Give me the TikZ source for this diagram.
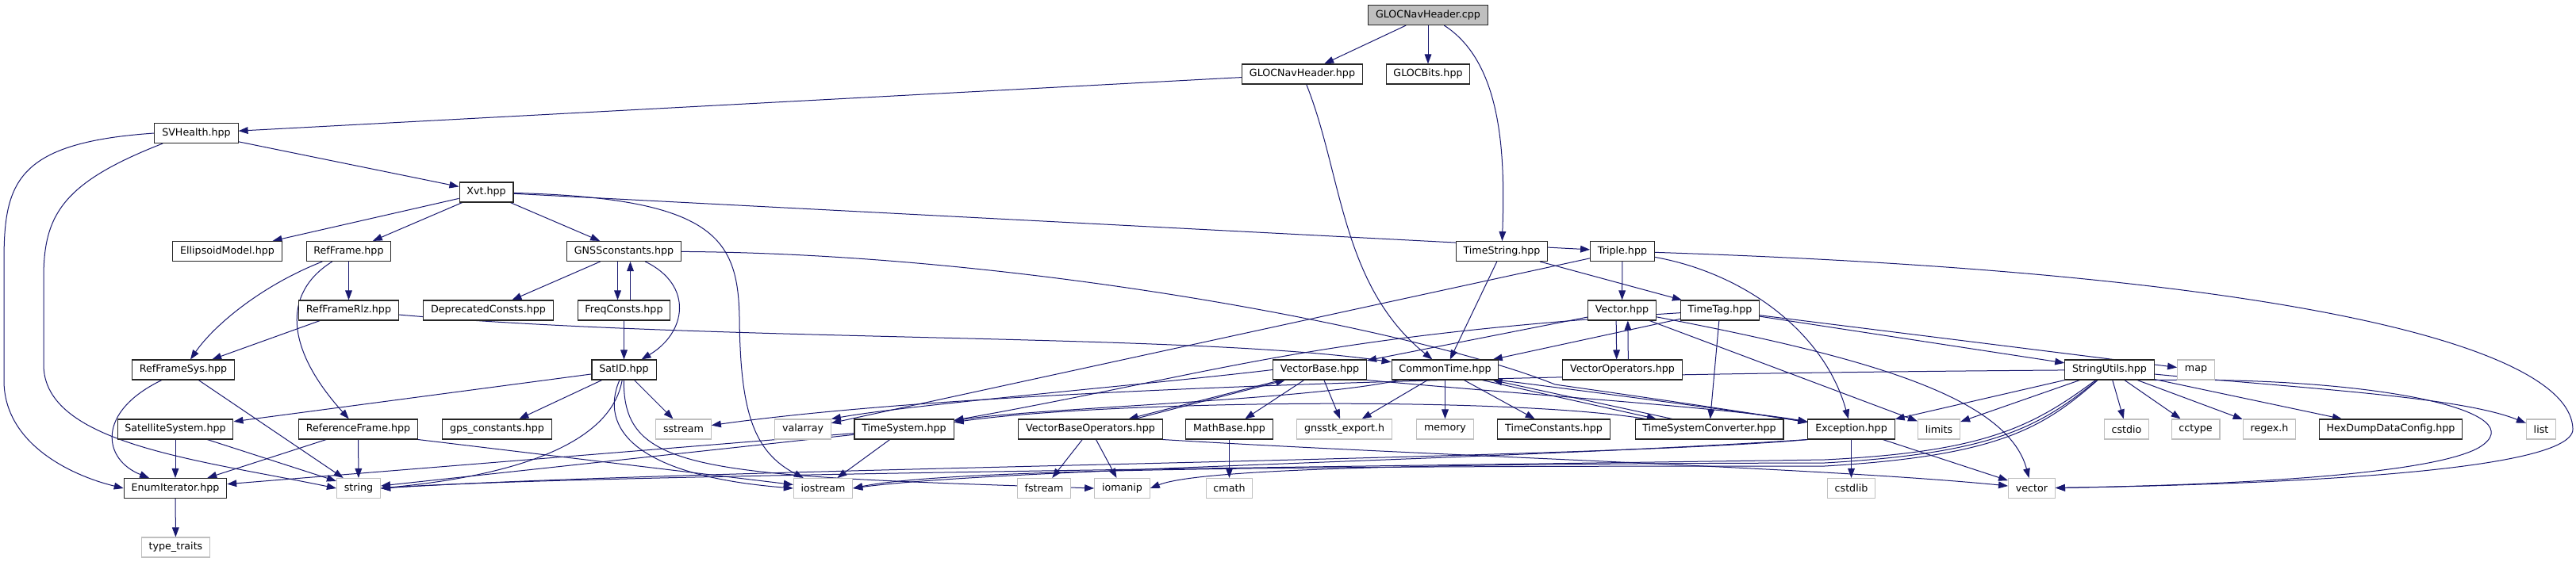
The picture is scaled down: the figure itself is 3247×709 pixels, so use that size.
\documentclass[tikz,border=0pt]{standalone}
\usepackage{fontspec}
\setmainfont{DejaVu Sans}
\usetikzlibrary{arrows.meta}
\definecolor{edgeblue}{HTML}{191970}
\definecolor{sysgray}{HTML}{BFBFBF}
\pgfdeclarelayer{edges}
\pgfsetlayers{edges,main}

\begin{document}
\begin{tikzpicture}[x=0.75pt,y=-0.75pt,
	hdrbox/.style={draw=black!85,line width=0.8pt,fill=white,inner xsep=7pt,inner ysep=0pt,
	minimum height=18.75pt,font=\fontsize{9.5}{11}\selectfont},
	sysbox/.style={hdrbox,draw=sysgray},
	rootbox/.style={hdrbox,fill=sysgray},
	incl/.style={draw=edgeblue,line width=0.75pt,-{Triangle[length=9pt,width=6.5pt]}}]
\begin{pgfonlayer}{edges}
\path[use as bounding box,fill=white] (0,0) rectangle (3247,709);
\end{pgfonlayer}
% files
\node[rootbox] (cpp) at (1800,19) {GLOCNavHeader.cpp};
\node[hdrbox] (hdr) at (1641.5,93.5) {GLOCNavHeader.hpp};
\node[hdrbox] (bits) at (1800,93.5) {GLOCBits.hpp};
\node[hdrbox] (svh) at (247.5,168) {SVHealth.hpp};
\node[hdrbox] (xvt) at (613,242.5) {Xvt.hpp};
\node[hdrbox] (ellip) at (286.5,317) {EllipsoidModel.hpp};
\node[hdrbox] (rf) at (439.5,317) {RefFrame.hpp};
\node[hdrbox] (gnss) at (786.5,317) {GNSSconstants.hpp};
\node[hdrbox] (tstr) at (1893,317) {TimeString.hpp};
\node[hdrbox] (trip) at (2045,317) {Triple.hpp};
\node[hdrbox] (rlz) at (439.5,391.5) {RefFrameRlz.hpp};
\node[hdrbox] (depr) at (615.5,391.5) {DeprecatedConsts.hpp};
\node[hdrbox] (freq) at (786.5,391.5) {FreqConsts.hpp};
\node[hdrbox] (vec) at (2044.5,391.5) {Vector.hpp};
\node[hdrbox] (ttag) at (2168,391.5) {TimeTag.hpp};
\node[hdrbox] (rfs) at (231,466.5) {RefFrameSys.hpp};
\node[hdrbox] (satid) at (786.5,466.5) {SatID.hpp};
\node[hdrbox] (vb) at (1663.5,466.5) {VectorBase.hpp};
\node[hdrbox] (ct) at (1821.5,466.5) {CommonTime.hpp};
\node[hdrbox] (vops) at (2045,466.5) {VectorOperators.hpp};
\node[hdrbox] (su) at (2659,466.5) {StringUtils.hpp};
\node[sysbox] (map) at (2768,466.5) {map};
\node[hdrbox] (satsys) at (221,541.5) {SatelliteSystem.hpp};
\node[hdrbox] (reff) at (451.5,541.5) {ReferenceFrame.hpp};
\node[hdrbox] (gpsc) at (626.5,541.5) {gps\_constants.hpp};
\node[sysbox] (sstr) at (861.5,541.5) {sstream};
\node[sysbox] (vala) at (1012,541.5) {valarray};
\node[hdrbox] (tsys) at (1139.5,541.5) {TimeSystem.hpp};
\node[hdrbox] (vbo) at (1374.5,541.5) {VectorBaseOperators.hpp};
\node[hdrbox] (mathb) at (1549.5,541.5) {MathBase.hpp};
\node[sysbox] (gexp) at (1694.5,541.5) {gnsstk\_export.h};
\node[sysbox] (mem) at (1821.5,541.5) {memory};
\node[hdrbox] (tconst) at (1958.5,541.5) {TimeConstants.hpp};
\node[hdrbox] (tsc) at (2154.5,541.5) {TimeSystemConverter.hpp};
\node[hdrbox] (exc) at (2333.5,541.5) {Exception.hpp};
\node[sysbox] (lim) at (2444,541.5) {limits};
\node[sysbox] (cstdio) at (2680.5,541.5) {cstdio};
\node[sysbox] (cctype) at (2767.5,541.5) {cctype};
\node[sysbox] (regex) at (2860.5,541.5) {regex.h};
\node[hdrbox] (hexd) at (3013.5,541.5) {HexDumpDataConfig.hpp};
\node[sysbox] (list) at (3203,541.5) {list};
\node[hdrbox] (enumit) at (221,616) {EnumIterator.hpp};
\node[sysbox] (string) at (452,616) {string};
\node[sysbox] (iostr) at (1037.5,616) {iostream};
\node[sysbox] (fstr) at (1316,616) {fstream};
\node[sysbox] (iomanip) at (1414.5,616) {iomanip};
\node[sysbox] (cmath) at (1549.5,616) {cmath};
\node[sysbox] (cstdlib) at (2333.5,616) {cstdlib};
\node[sysbox] (vector) at (2561,616) {vector};
\node[sysbox] (ttraits) at (221.5,690.5) {type\_traits};
% includes, kept under the boxes
\begin{pgfonlayer}{edges}
\draw[incl] (cpp) -- (hdr);
\draw[incl] (cpp) -- (bits);
\draw[incl] (cpp) .. controls (1895,80) and (1897,200) .. (tstr);
\draw[incl] (hdr) -- (svh);
\draw[incl] (hdr) .. controls (1692,220) and (1690,360) .. (ct);
\draw[incl] (svh) -- (xvt);
\draw[incl] (svh.west) .. controls (20,180) and (5,230) .. (5,330) -- (5,480) .. controls (5,560) and (90,600) .. (enumit.west);
\draw[incl] ([xshift=8pt]svh.south west) .. controls (80,230) and (55,270) .. (55,350) -- (55,460) .. controls (55,560) and (250,580) .. (string.west);
\draw[incl] (xvt) -- (ellip);
\draw[incl] (xvt) -- (rf);
\draw[incl] (xvt) -- (gnss);
\draw[incl] (xvt) -- (trip);
\draw[incl] (xvt) .. controls (900,250) and (930,300) .. (932,400) .. controls (933,520) and (950,570) .. (iostr);
\draw[incl] (rf) -- (rlz);
\draw[incl] (rf) .. controls (330,360) and (270,410) .. (rfs);
\draw[incl] (rf) .. controls (355,370) and (360,440) .. (reff);
\draw[incl] (gnss) -- (depr);
\draw[incl] ([xshift=-6pt]gnss.south) -- ([xshift=-6pt]freq.north);
\draw[incl] ([xshift=6pt]freq.north) -- ([xshift=6pt]gnss.south);
\draw[incl] (gnss) .. controls (875,360) and (865,420) .. (satid);
\draw[incl] (gnss) .. controls (1300,320) and (1800,420) .. (1960,485) .. controls (2100,505) and (2200,520) .. (exc);
\draw[incl] (freq) -- (satid);
\draw[incl] (rlz) -- (rfs);
\draw[incl] (rlz) .. controls (900,432) and (1500,420) .. (ct);
\draw[incl] (rfs) .. controls (120,520) and (130,580) .. (enumit);
\draw[incl] (rfs) -- (string);
\draw[incl] (satid) -- (satsys);
\draw[incl] (satid) -- (gpsc);
\draw[incl] (satid) -- (sstr);
\draw[incl] (satid) .. controls (755,540) and (800,600) .. (iostr.west);
\draw[incl] (satid) .. controls (785,595) and (880,600) .. (iomanip.west);
\draw[incl] (satid) .. controls (770,560) and (650,600) .. (string.east);
\draw[incl] (reff) -- (enumit);
\draw[incl] (reff) -- (string);
\draw[incl] (reff.south east) -- (iostr);
\draw[incl] (satsys) -- (enumit);
\draw[incl] (satsys) -- (string);
\draw[incl] (enumit) -- (ttraits);
\draw[incl] (tstr) -- (ct);
\draw[incl] (tstr) -- (ttag);
\draw[incl] (trip) -- (vec);
\draw[incl] (trip) -- (vala);
\draw[incl] (trip) .. controls (2200,345) and (2300,420) .. (exc);
\draw[incl] (trip) .. controls (2900,345) and (3240,440) .. (3243,541) .. controls (3245,600) and (2800,612) .. (vector);
\draw[incl] (vec) -- (vb);
\draw[incl] ([xshift=-5.5pt]vec.south) -- ([xshift=-5.5pt]vops.north);
\draw[incl] ([xshift=5.5pt]vops.north) -- ([xshift=5.5pt]vec.south);
\draw[incl] (vec) -- (lim);
\draw[incl] (vec) .. controls (2350,450) and (2530,500) .. (vector);
\draw[incl] (ttag) -- (ct);
\draw[incl] (ttag) -- (tsc);
\draw[incl] (ttag) -- (su);
\draw[incl] (ttag) -- (map);
\draw[incl] (ttag) .. controls (1640,425) and (1540,470) .. (tsys);
\draw[incl] (vb.west) .. controls (1450,485) and (1150,510) .. (vala.north east);
\draw[incl] ([xshift=8pt]vb.south west) -- ([xshift=36pt]vbo.north);
\draw[incl] ([xshift=42pt]vbo.north) -- ([xshift=12pt]vb.south west);
\draw[incl] (vb) -- (mathb);
\draw[incl] (vb) -- (gexp);
\draw[incl] (vb.south east) .. controls (1950,500) and (2180,515) .. (exc);
\draw[incl] (vbo) -- (fstr);
\draw[incl] (vbo) -- (iomanip);
\draw[incl] (vbo.south east) .. controls (1800,575) and (2300,590) .. (vector);
\draw[incl] (mathb) -- (cmath);
\draw[incl] (ct) -- (gexp);
\draw[incl] (ct) -- (mem);
\draw[incl] (ct) -- (tconst);
\draw[incl] ([xshift=-16pt]ct.south east) -- ([xshift=-50pt]tsc.north);
\draw[incl] ([xshift=-35pt]tsc.north) -- ([xshift=-6pt]ct.south east);
\draw[incl] (ct.south east) .. controls (2050,500) and (2200,520) .. (exc);
\draw[incl] (ct) .. controls (1650,505) and (1300,515) .. (tsys);
\draw[incl] (tsc) .. controls (1900,500) and (1400,505) .. (tsys);
\draw[incl] (tsys) -- (enumit);
\draw[incl] (tsys) -- (string);
\draw[incl] (tsys) -- (iostr);
\draw[incl] (exc) -- (cstdlib);
\draw[incl] (exc) -- (vector);
\draw[incl] (exc.south west) .. controls (2000,580) and (900,590) .. (string.east);
\draw[incl] (exc.south west) .. controls (1900,580) and (1250,592) .. (iostr.east);
\draw[incl] (su) -- (exc);
\draw[incl] (su) -- (lim);
\draw[incl] (su) -- (cstdio);
\draw[incl] (su) -- (cctype);
\draw[incl] (su) -- (regex);
\draw[incl] (su) -- (hexd);
\draw[incl] (su) .. controls (2900,490) and (3100,500) .. (list);
\draw[incl] (su.south east) .. controls (3000,475) and (3200,520) .. (3124,565) .. controls (3060,600) and (2800,612) .. (vector);
\draw[incl] (su) .. controls (2200,470) and (1300,480) .. (sstr);
\draw[incl] (su) .. controls (2560,540) and (2500,570) .. (2300,580) .. controls (1600,590) and (700,600) .. (string.east);
\draw[incl] (su) .. controls (2575,540) and (2520,575) .. (2300,588) .. controls (1700,588) and (1200,590) .. (iostr.east);
\draw[incl] (su) .. controls (2570,540) and (2510,572) .. (2300,584) .. controls (1900,585) and (1520,588) .. (iomanip.east);
\end{pgfonlayer}
\end{tikzpicture}
\end{document}
